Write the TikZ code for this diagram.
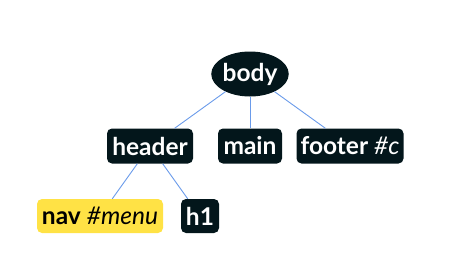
\documentclass[tikz,border=0pt]{standalone}
\usepackage{fontspec}
\setmainfont{Lato}
\definecolor{nodedark}{HTML}{03161B}
\definecolor{navyellow}{HTML}{FFE245}
\definecolor{linkblue}{HTML}{6A9BEA}
\usetikzlibrary{shapes.geometric, positioning}
\newcommand{\tagid}[1]{\textit{\mdseries #1}}
\tikzset{
	tagnode/.style={
			rectangle,
			rounded corners=5pt,
			fill=nodedark,
			text=white,
			font=\fontsize{24.5}{28}\selectfont\bfseries,
			minimum height=35pt,
			inner sep=0pt
		},
	rootnode/.style={
			tagnode,
			ellipse,
			minimum width=77pt,
			minimum height=45pt
		},
	marknode/.style={
			tagnode,
			fill=navyellow,
			text=black
		},
	linkedge/.style={
			draw=linkblue,
			line width=0.9pt
		}
}

\begin{document}
\begin{tikzpicture}[x=1pt, y=-1pt]
\useasboundingbox (0,0) rectangle (455,268);
\node[rootnode] (body) at (250,74) {body};
\node[tagnode, minimum width=86pt] (header) at (150,146) {header};
\node[tagnode, minimum width=64pt] (main) at (250,146) {main};
\node[tagnode, minimum width=107pt] (footer) at (350,146) {footer \tagid{\#c}};
\node[marknode, minimum width=126pt, minimum height=34pt] (nav) at (100,216) {nav \tagid{\#menu}};
\node[tagnode, minimum width=38pt, minimum height=34pt] (h1) at (200,216) {h1};

\draw[linkedge] (body) -- (header);
\draw[linkedge] (body) -- (main);
\draw[linkedge] (body) -- (footer);

\draw[linkedge] (header) -- (nav);
\draw[linkedge] (header) -- (h1);
\end{tikzpicture}
\end{document}
